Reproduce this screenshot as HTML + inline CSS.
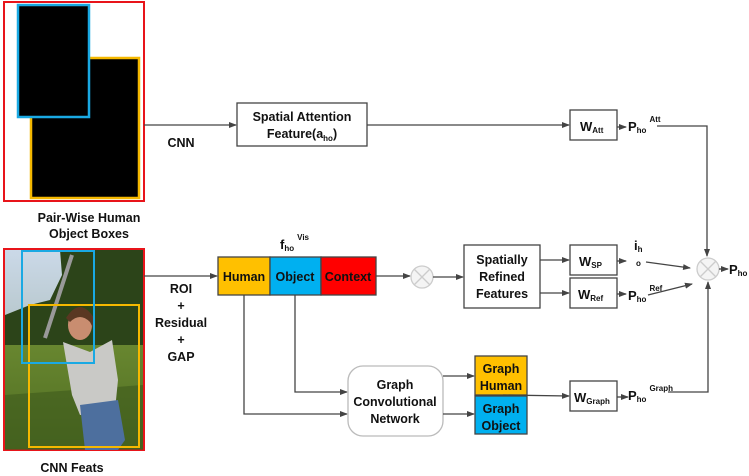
<!DOCTYPE html>
<html><head><meta charset="utf-8"><style>
html,body{margin:0;padding:0;background:#fff}
svg{display:block}
text{font-family:"Liberation Sans",sans-serif;font-weight:bold;fill:#111}
</style></head><body>
<svg width="749" height="476" viewBox="0 0 749 476" xmlns="http://www.w3.org/2000/svg">
<defs>
<marker id="a" markerWidth="8" markerHeight="8" refX="7" refY="4" orient="auto" markerUnits="userSpaceOnUse">
<path d="M0,1 L8,4 L0,7 z" fill="#444"/></marker>
<linearGradient id="sky" x1="0" y1="0" x2="0" y2="1">
<stop offset="0" stop-color="#cbd9e8"/><stop offset="1" stop-color="#b9c9cf"/></linearGradient>
<linearGradient id="grass" x1="0" y1="0" x2="0" y2="1">
<stop offset="0" stop-color="#7f9e3c"/><stop offset="1" stop-color="#4f6d22"/></linearGradient>
</defs>
<g stroke="#444" stroke-width="1.3" fill="none">
<rect x="4" y="2" width="140" height="199" stroke="#e8141a" stroke-width="2" fill="#fff"/>
<rect x="31" y="58" width="108" height="140" fill="#000" stroke="#f5b800" stroke-width="2.5"/>
<rect x="18" y="5" width="71" height="112" fill="#000" stroke="#1aa9e3" stroke-width="2.5"/>
<line x1="144" y1="125" x2="236" y2="125" marker-end="url(#a)"/>
<rect x="237" y="103" width="130" height="43" fill="#fff"/>
<line x1="367" y1="125" x2="569" y2="125" marker-end="url(#a)"/>
<rect x="570" y="110" width="47" height="30" fill="#fff"/>
<line x1="617" y1="127" x2="626" y2="127" marker-end="url(#a)"/>
<polyline points="657,126 707,126 707,256" marker-end="url(#a)"/>
<!-- bottom photo -->
<rect x="4" y="249" width="140" height="201" stroke="#e8141a" stroke-width="2" fill="url(#grass)"/>
<rect x="5" y="250" width="138" height="95" fill="#2c4419" stroke="none"/>
<path d="M5,250 L60,250 L62,275 L50,300 L30,305 L5,315z" fill="url(#sky)" stroke="none"/>
<path d="M5,395 L143,385 L143,450 L5,450z" fill="#3e5a1c" stroke="none" opacity="0.6"/>
<path d="M63,342 L90,352 L112,340 L118,380 L115,410 L80,415 L72,395z" fill="#c9c9c6" stroke="none"/>
<path d="M80,405 L118,400 L125,440 L118,450 L85,450z" fill="#4d6f9e" stroke="none"/>
<ellipse cx="80" cy="325" rx="12" ry="15" fill="#c98d70" stroke="none"/>
<path d="M66,318 Q80,296 94,318 L94,330 L90,322 Q80,312 70,322z" fill="#5a3722" stroke="none"/>
<line x1="45" y1="338" x2="72" y2="255" stroke="#999" stroke-width="4"/>
<rect x="29" y="305" width="110" height="142" stroke="#f5b800" stroke-width="2"/>
<rect x="22" y="251" width="72" height="112" stroke="#1aa9e3" stroke-width="2"/>
<line x1="144" y1="276" x2="217" y2="276" marker-end="url(#a)"/>
<rect x="218" y="257" width="52" height="38" fill="#ffc000"/>
<rect x="270" y="257" width="51" height="38" fill="#00b0f0"/>
<rect x="321" y="257" width="55" height="38" fill="#ff0000"/>
<line x1="376" y1="276" x2="410" y2="276" marker-end="url(#a)"/>
<circle cx="422" cy="277" r="11" stroke="#ccc" fill="#f4f4f4"/>
<line x1="414" y1="269" x2="430" y2="285" stroke="#ccc"/><line x1="430" y1="269" x2="414" y2="285" stroke="#ccc"/>
<line x1="433" y1="277" x2="463" y2="277" marker-end="url(#a)"/>
<rect x="464" y="245" width="76" height="63" fill="#fff"/>
<line x1="540" y1="260" x2="569" y2="260" marker-end="url(#a)"/>
<line x1="540" y1="293" x2="569" y2="293" marker-end="url(#a)"/>
<rect x="570" y="245" width="47" height="30" fill="#fff"/>
<rect x="570" y="278" width="47" height="30" fill="#fff"/>
<line x1="617" y1="261" x2="626" y2="261" marker-end="url(#a)"/>
<line x1="617" y1="294" x2="626" y2="294" marker-end="url(#a)"/>
<line x1="646" y1="262" x2="690" y2="268" marker-end="url(#a)"/>
<line x1="648" y1="295" x2="692" y2="284" marker-end="url(#a)"/>
<circle cx="708" cy="269" r="11" stroke="#ccc" fill="#f4f4f4"/>
<line x1="700" y1="261" x2="716" y2="277" stroke="#ccc"/><line x1="716" y1="261" x2="700" y2="277" stroke="#ccc"/>
<line x1="719" y1="269" x2="728" y2="269" marker-end="url(#a)"/>
<polyline points="244,295 244,414 347,414" marker-end="url(#a)"/>
<polyline points="295,295 295,392 347,392" marker-end="url(#a)"/>
<rect x="348" y="366" width="95" height="70" rx="15" stroke="#bbb" fill="#fff"/>
<line x1="443" y1="376" x2="474" y2="376" marker-end="url(#a)"/>
<line x1="443" y1="414" x2="474" y2="414" marker-end="url(#a)"/>
<rect x="475" y="356" width="52" height="39" fill="#ffc000"/>
<rect x="475" y="396" width="52" height="38" fill="#00b0f0"/>
<line x1="503" y1="395" x2="569" y2="396" marker-end="url(#a)"/>
<rect x="570" y="381" width="47" height="30" fill="#fff"/>
<line x1="617" y1="397" x2="628" y2="397" marker-end="url(#a)"/>
<polyline points="668,392 708,392 708,282" marker-end="url(#a)"/>
</g>
<g font-size="12.5" text-anchor="middle">
<text x="89" y="222">Pair-Wise Human</text>
<text x="89" y="238">Object Boxes</text>
<text x="181" y="147">CNN</text>
<text x="302" y="121">Spatial Attention</text>
<text x="302" y="138">Feature(a<tspan font-size="8" dy="3">ho</tspan><tspan dy="-3">)</tspan></text>
<text x="72" y="472">CNN Feats</text>
<text x="181" y="293">ROI</text>
<text x="181" y="310">+</text>
<text x="181" y="327">Residual</text>
<text x="181" y="344">+</text>
<text x="181" y="361">GAP</text>
<text x="244" y="281">Human</text>
<text x="295" y="281">Object</text>
<text x="348" y="281">Context</text>
<text x="502" y="264">Spatially</text>
<text x="502" y="281">Refined</text>
<text x="502" y="298">Features</text>
<text x="395" y="389">Graph</text>
<text x="395" y="406">Convolutional</text>
<text x="395" y="423">Network</text>
<text x="501" y="373">Graph</text>
<text x="501" y="390">Human</text>
<text x="501" y="413">Graph</text>
<text x="501" y="430">Object</text>
</g>
<g font-size="13">
<text x="580" y="131">W<tspan font-size="8" dy="2">Att</tspan></text>
<text x="579" y="266">W<tspan font-size="8" dy="2">SP</tspan></text>
<text x="578" y="299">W<tspan font-size="8" dy="2">Ref</tspan></text>
<text x="574" y="402">W<tspan font-size="8" dy="2">Graph</tspan></text>
<text x="628" y="131">P<tspan font-size="8" dy="2">ho</tspan><tspan font-size="8" dy="-11" dx="3">Att</tspan></text>
<text x="628" y="300">P<tspan font-size="8" dy="2">ho</tspan><tspan font-size="8" dy="-11" dx="3">Ref</tspan></text>
<text x="628" y="400">P<tspan font-size="8" dy="2">ho</tspan><tspan font-size="8" dy="-11" dx="3">Graph</tspan></text>
<text x="729" y="274">P<tspan font-size="8" dy="2">ho</tspan></text>
<text x="280" y="249">f<tspan font-size="8" dy="2">ho</tspan><tspan font-size="8" dy="-11" dx="3">Vis</tspan></text>
<text x="634" y="250">i<tspan font-size="8" dy="2">h</tspan></text>
<text x="636" y="266" font-size="8">o</text>
</g>
</svg>
</body></html>
